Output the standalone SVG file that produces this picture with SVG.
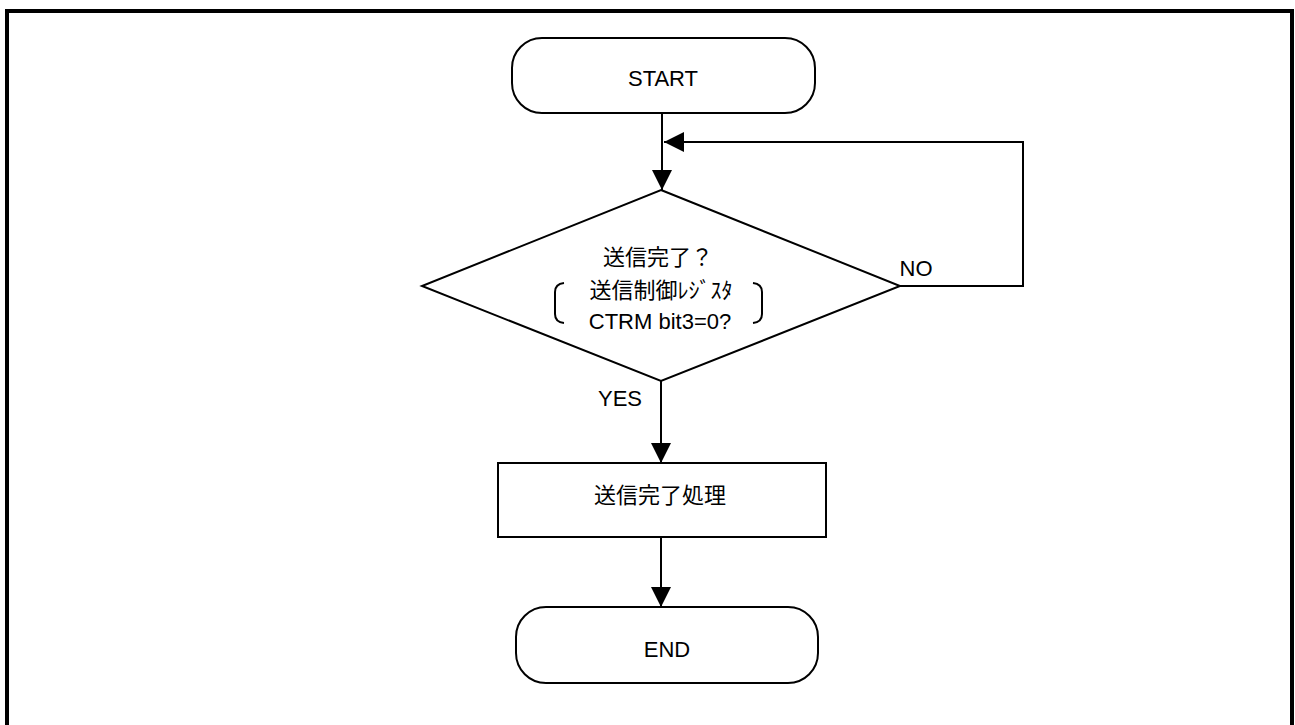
<svg xmlns="http://www.w3.org/2000/svg" width="1295" height="725" viewBox="0 0 1295 725">
<style>
.shape{fill:#fff;stroke:#000;stroke-width:2}
.line{fill:none;stroke:#000;stroke-width:2}
.t{font-family:"Liberation Sans","Noto Sans CJK JP",Arial,sans-serif;font-size:22px;fill:#000;text-anchor:middle}
</style>
<defs>
<marker id="ah" markerWidth="20" markerHeight="20" refX="20" refY="10" orient="auto" markerUnits="userSpaceOnUse">
<path d="M0,0 L20,10 L0,20 Z" fill="#000"/>
</marker>
</defs>
<rect x="0" y="0" width="1295" height="725" fill="#fff"/>
<rect x="7" y="11" width="1285" height="730" fill="none" stroke="#000" stroke-width="4"/>
<g id="connectors">
<path class="line" d="M662,113 V190" marker-end="url(#ah)"/>
<path class="line" d="M900,286 H1023 V142 H664" marker-end="url(#ah)"/>
<path class="line" d="M661,381 V463" marker-end="url(#ah)"/>
<path class="line" d="M661,537 V607" marker-end="url(#ah)"/>
<text class="t" x="916" y="276">NO</text>
<text class="t" x="620" y="406">YES</text>
</g>
<g id="start">
<rect class="shape" x="512" y="38" width="303" height="75" rx="30" ry="30"/>
<text class="t" x="663" y="86">START</text>
</g>
<g id="decision">
<polygon class="shape" points="661,190 900,286 661,381 422,286"/>
<text class="t" x="658" y="265">送信完了？</text>
<text class="t" x="661" y="298">送信制御ﾚｼﾞｽﾀ</text>
<text class="t" x="660" y="329">CTRM bit3=0?</text>
<path class="line" d="M564,283 Q555,284 555,292 V314 Q555,322 564,323"/>
<path class="line" d="M753,283 Q762,284 762,292 V314 Q762,322 753,323"/>
</g>
<g id="process">
<rect class="shape" x="498" y="463" width="328" height="74"/>
<text class="t" x="660" y="503">送信完了処理</text>
</g>
<g id="end">
<rect class="shape" x="516" y="607" width="302" height="76" rx="30" ry="30"/>
<text class="t" x="667" y="657">END</text>
</g>
</svg>
